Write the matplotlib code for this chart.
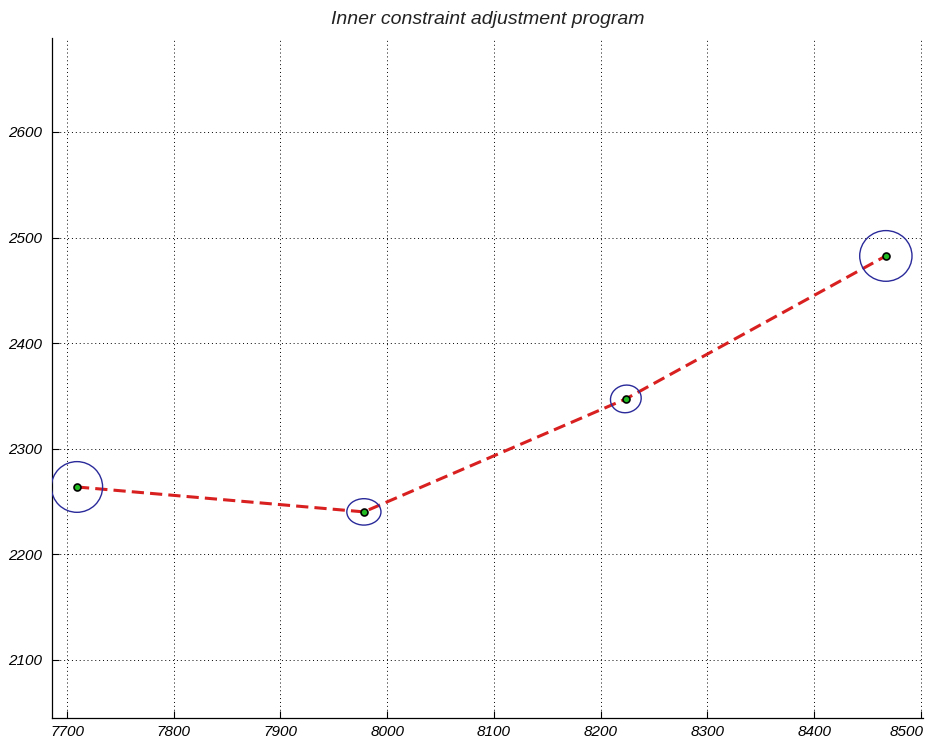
import matplotlib
matplotlib.use("Agg")
import matplotlib.pyplot as plt
import matplotlib.transforms as mtransforms
from matplotlib.patches import Ellipse

# Adjusted station coordinates
east = [7709.4, 7978.2, 8223.6, 8467.2]
north = [2263.8, 2240.2, 2347.2, 2482.6]

# Error ellipse semi-axes (along east, along north) and rotation in degrees
semi_e = [24.0, 16.0, 14.5, 24.5]
semi_n = [24.0, 12.5, 13.0, 24.0]
tilt = [0.0, 0.0, 15.0, 0.0]

x_ticks = [7700, 7800, 7900, 8000, 8100, 8200, 8300, 8400, 8500]
y_ticks = [2100, 2200, 2300, 2400, 2500, 2600]

family = "Liberation Sans"

fig = plt.figure(figsize=(9.3, 7.42), dpi=100)
ax = fig.add_axes([52 / 930, 1 - 718 / 742, (923 - 52) / 930, (718 - 38) / 742])

ax.set_xlim(7686, 8502)
ax.set_ylim(2045, 2689)

ax.set_xticks(x_ticks)
ax.set_yticks(y_ticks)
ax.set_xticklabels([str(v) for v in x_ticks], fontstyle="italic", family=family, fontsize=11)
ax.set_yticklabels([str(v) for v in y_ticks], fontstyle="italic", family=family, fontsize=11)
ax.tick_params(direction="in", length=5, width=0.8, colors="black")
ax.tick_params(axis="x", pad=5)
ax.tick_params(axis="y", pad=7)

# keep the rightmost x label inside the canvas
last = ax.get_xticklabels()[-1]
last.set_transform(last.get_transform() +
                   mtransforms.ScaledTranslation(-14 / 100, 0, fig.dpi_scale_trans))

ax.grid(True, linestyle=(0, (1, 3)), color="black", linewidth=0.7)
ax.set_axisbelow(True)

for side in ("top", "right"):
    ax.spines[side].set_visible(False)
for side in ("left", "bottom"):
    ax.spines[side].set_linewidth(0.9)

ax.plot(east, north, linestyle=(0, (4, 2)), color="#d92020", linewidth=2.2, zorder=3)

for e, n, a, b, t in zip(east, north, semi_e, semi_n, tilt):
    ax.add_patch(Ellipse((e, n), 2 * a, 2 * b, angle=t, fill=False,
                         edgecolor="#2a2a9a", linewidth=1.0, zorder=4))

ax.plot(east, north, linestyle="none", marker="o", markersize=5,
        markerfacecolor="#22bb22", markeredgecolor="black", markeredgewidth=1.2, zorder=5)

ax.set_title("Inner constraint adjustment program", fontstyle="italic",
             family=family, fontsize=14, color="#222222", pad=10)

fig.savefig("out.png", dpi=100, facecolor="white")
